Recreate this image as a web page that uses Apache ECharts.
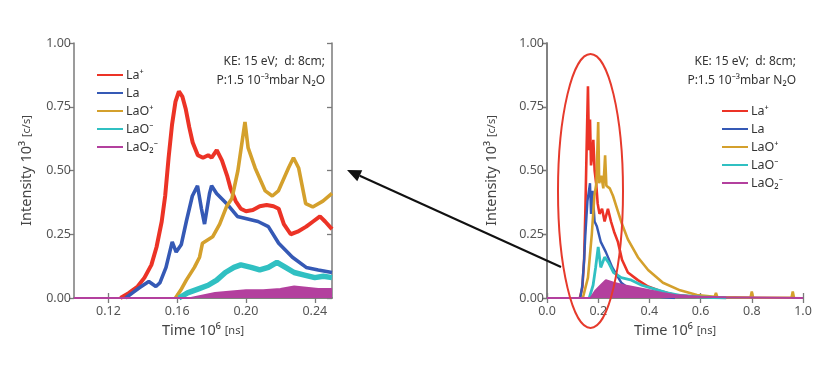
<!DOCTYPE html>
<html>
<head>
<meta charset="utf-8">
<script src="https://cdn.jsdelivr.net/npm/echarts@6/dist/echarts.min.js"></script>
<style>
html,body{margin:0;padding:0;background:#fff;}
#c{width:839px;height:378px;}
</style>
</head>
<body>
<div id="c"></div>
<script>
// ---------- Data ----------
const seriesNames = ['La\u207A', 'La', 'LaO\u207A', 'LaO\u207B', 'LaO\u2082\u207B'];
const seriesColors = ['#ec3326', '#3559b5', '#d4a02c', '#30c0c2', '#b3409e'];

// Left panel: zoom 0.10 - 0.25 (Time 10^6 ns), intensity 10^3 c/s
const zoomXTicks = [0.12, 0.16, 0.20, 0.24];
const zoomLaPlus = [[0.127,0],[0.132,0.02],[0.137,0.045],[0.141,0.08],[0.145,0.13],[0.148,0.20],[0.151,0.30],[0.153,0.40],[0.155,0.55],[0.157,0.68],[0.159,0.77],[0.161,0.81],[0.163,0.79],[0.165,0.74],[0.167,0.67],[0.169,0.61],[0.172,0.56],[0.175,0.55],[0.178,0.56],[0.180,0.55],[0.183,0.58],[0.186,0.54],[0.189,0.48],[0.191,0.43],[0.194,0.38],[0.197,0.35],[0.200,0.34],[0.204,0.345],[0.208,0.36],[0.212,0.365],[0.216,0.36],[0.219,0.35],[0.222,0.29],[0.226,0.25],[0.230,0.26],[0.235,0.28],[0.239,0.30],[0.243,0.32],[0.246,0.30],[0.250,0.27]];
const zoomLa = [[0.130,0],[0.134,0.02],[0.138,0.04],[0.1435,0.065],[0.1476,0.045],[0.150,0.06],[0.1535,0.12],[0.1571,0.22],[0.1594,0.18],[0.1624,0.21],[0.1653,0.30],[0.1688,0.40],[0.1718,0.44],[0.1741,0.35],[0.1759,0.29],[0.1788,0.41],[0.180,0.44],[0.1829,0.41],[0.1888,0.37],[0.195,0.32],[0.201,0.31],[0.207,0.30],[0.213,0.28],[0.219,0.215],[0.227,0.16],[0.235,0.12],[0.242,0.11],[0.250,0.10]];
const zoomLaOPlus = [[0.159,0],[0.162,0.03],[0.1653,0.07],[0.170,0.12],[0.173,0.16],[0.1747,0.215],[0.1806,0.24],[0.1847,0.29],[0.1888,0.36],[0.1918,0.39],[0.1953,0.50],[0.1994,0.69],[0.2012,0.59],[0.2053,0.51],[0.2112,0.42],[0.2153,0.40],[0.2188,0.42],[0.2247,0.51],[0.2276,0.55],[0.2306,0.51],[0.2347,0.37],[0.2388,0.357],[0.2447,0.38],[0.250,0.41]];
const zoomLaOMinus = [[0.161,0],[0.166,0.02],[0.172,0.035],[0.178,0.05],[0.183,0.07],[0.188,0.10],[0.193,0.12],[0.197,0.13],[0.203,0.12],[0.208,0.11],[0.213,0.12],[0.218,0.14],[0.223,0.12],[0.228,0.10],[0.234,0.09],[0.240,0.08],[0.245,0.085],[0.250,0.08]];
const zoomLaO2Minus = [[0.100,0],[0.168,0],[0.175,0.01],[0.182,0.02],[0.190,0.025],[0.200,0.03],[0.210,0.03],[0.220,0.035],[0.228,0.045],[0.235,0.04],[0.242,0.035],[0.250,0.035]];

// Right panel: full range 0.0 - 1.0
const fullLaPlus = [[0.128,0],[0.138,0.04],[0.145,0.15],[0.150,0.35],[0.155,0.60],[0.160,0.83],[0.164,0.58],[0.168,0.70],[0.172,0.52],[0.177,0.56],[0.181,0.62],[0.186,0.50],[0.192,0.45],[0.198,0.37],[0.205,0.33],[0.215,0.35],[0.225,0.30],[0.238,0.35],[0.250,0.30],[0.262,0.26],[0.277,0.22],[0.293,0.15],[0.316,0.10],[0.355,0.07],[0.395,0.045],[0.45,0.025],[0.5,0.012],[0.6,0.004],[0.7,0]];
const fullLa = [[0.13,0],[0.138,0.05],[0.145,0.15],[0.150,0.25],[0.158,0.38],[0.168,0.45],[0.172,0.33],[0.178,0.42],[0.186,0.30],[0.195,0.28],[0.210,0.22],[0.230,0.18],[0.255,0.12],[0.290,0.06],[0.330,0.03],[0.380,0.012],[0.450,0.004],[0.5,0]];
const fullLaOPlus = [[0.14,0],[0.16,0.08],[0.175,0.25],[0.185,0.40],[0.193,0.45],[0.200,0.69],[0.204,0.45],[0.212,0.48],[0.220,0.43],[0.227,0.56],[0.232,0.44],[0.245,0.43],[0.258,0.40],[0.277,0.34],[0.293,0.29],[0.316,0.23],[0.355,0.16],[0.395,0.11],[0.453,0.06],[0.52,0.03],[0.586,0.012],[0.655,0.005],[0.66,0.02],[0.665,0.004],[0.795,0.002],[0.80,0.025],[0.805,0.002],[0.955,0.001],[0.96,0.025],[0.965,0]];
const fullLaOMinus = [[0.165,0],[0.18,0.05],[0.19,0.12],[0.20,0.20],[0.21,0.12],[0.225,0.16],[0.24,0.14],[0.26,0.10],[0.29,0.08],[0.33,0.07],[0.37,0.05],[0.42,0.035],[0.47,0.02],[0.52,0.01],[0.60,0.004],[0.70,0]];
const fullLaO2Minus = [[0,0],[0.17,0],[0.19,0.03],[0.21,0.05],[0.23,0.07],[0.26,0.06],[0.30,0.05],[0.35,0.04],[0.40,0.03],[0.45,0.02],[0.50,0.012],[0.55,0.008],[0.60,0.005],[0.70,0.003],[0.80,0.002],[1.0,0]];

// ---------- Chart ----------
const FONT = '"Noto Sans", "DejaVu Sans", sans-serif';
const chart = echarts.init(document.getElementById('c'), null, {renderer: 'canvas'});
const axisCol = '#7a7a7a';
const labelCol = '#555';

function xAxes(gridIndex, min, max, interval, customTicks, decimals, gap) {
  const lbl = {color: labelCol, fontSize: 12.5, fontFamily: FONT, margin: 7,
    formatter: v => v.toFixed(decimals)};
  const tick = {inside: true, length: 5, lineStyle: {color: axisCol, width: 1.3}};
  if (customTicks) { lbl.customValues = customTicks; tick.customValues = customTicks; }
  return [
    {type: 'value', gridIndex, position: 'bottom', min, max, interval,
      axisLine: {lineStyle: {color: axisCol, width: 1.5}},
      axisTick: tick, axisLabel: lbl, splitLine: {show: false},
      name: 'Time 10\u2076 {s|[ns]}', nameLocation: 'middle', nameGap: gap,
      nameTextStyle: {color: '#444', fontSize: 14.5, fontFamily: FONT,
        rich: {s: {fontSize: 11, color: '#444', fontFamily: FONT}}}},
    {type: 'value', gridIndex, position: 'top', min, max, interval,
      axisLine: {lineStyle: {color: axisCol, width: 1.5}},
      axisTick: Object.assign({}, tick), axisLabel: {show: false}, splitLine: {show: false}}
  ];
}
function yAxes(gridIndex, gap) {
  return [
    {type: 'value', gridIndex, position: 'left', min: 0, max: 1, interval: 0.25,
      axisLine: {lineStyle: {color: axisCol, width: 1.5}},
      axisTick: {inside: false, length: 5, lineStyle: {color: axisCol, width: 1.3}},
      axisLabel: {color: labelCol, fontSize: 12.5, fontFamily: FONT, margin: 3, formatter: v => v.toFixed(2)},
      splitLine: {show: false},
      name: 'Intensity 10\u00B3 {s|[c/s]}', nameLocation: 'middle', nameGap: gap, nameRotate: 90,
      nameTextStyle: {color: '#444', fontSize: 14.5, fontFamily: FONT,
        rich: {s: {fontSize: 11, color: '#444', fontFamily: FONT}}}},
    {type: 'value', gridIndex, position: 'right', min: 0, max: 1, interval: 0.25,
      axisLine: {lineStyle: {color: axisCol, width: 1.5}},
      axisTick: {inside: true, length: 5, lineStyle: {color: axisCol, width: 1.3}},
      axisLabel: {show: false}, splitLine: {show: false}}
  ];
}

const zoomData = [zoomLaPlus, zoomLa, zoomLaOPlus, zoomLaOMinus, zoomLaO2Minus];
const fullData = [fullLaPlus, fullLa, fullLaOPlus, fullLaOMinus, fullLaO2Minus];
const zoomWidths = [4, 3.6, 3.6, 5.5, 2];
const fullWidths = [2.6, 2.4, 2.6, 2.8, 2];

const series = [];
zoomData.forEach((d, i) => {
  series.push({
    type: 'line', name: seriesNames[i], xAxisIndex: 0, yAxisIndex: 0, data: d,
    showSymbol: false, symbol: 'none', clip: true,
    lineStyle: {color: seriesColors[i], width: zoomWidths[i]},
    itemStyle: {color: seriesColors[i]},
    areaStyle: i === 4 ? {color: seriesColors[i], opacity: 1} : undefined,
    z: 2 + i
  });
});
fullData.forEach((d, i) => {
  series.push({
    type: 'line', name: seriesNames[i], xAxisIndex: 2, yAxisIndex: 2, data: d,
    showSymbol: false, symbol: 'none', clip: true,
    lineStyle: {color: seriesColors[i], width: fullWidths[i]},
    itemStyle: {color: seriesColors[i]},
    areaStyle: i === 4 ? {color: seriesColors[i], opacity: 1} : undefined,
    z: 2 + i
  });
});

const legendCommon = {
  orient: 'vertical', icon: 'rect', itemWidth: 26, itemHeight: 2, itemGap: 4,
  selectedMode: false, data: seriesNames,
  textStyle: {color: '#333', fontSize: 12.5, fontFamily: FONT, lineHeight: 14, padding: [0, 0, 0, -2]}
};

const annoFont = '12px ' + FONT;
function annoText(xRight) {
  return [
    {type: 'text', x: xRight, y: 62, z: 50, style: {text: 'KE: 15 eV;  d: 8cm;', font: annoFont, fill: '#333', align: 'right', verticalAlign: 'middle'}},
    {type: 'text', x: xRight, y: 81, z: 50, style: {text: 'P:1.5 10\u207B\u00B3mbar N\u2082O', font: annoFont, fill: '#333', align: 'right', verticalAlign: 'middle'}}
  ];
}

// arrow geometry (annotation)
const tip = [347, 170], tail = [561, 267];
const dx = tip[0] - tail[0], dy = tip[1] - tail[1];
const L = Math.hypot(dx, dy), ux = dx / L, uy = dy / L;
const headLen = 14, headHalf = 6;
const bx = tip[0] - ux * headLen, by = tip[1] - uy * headLen;

chart.setOption({
  animation: false,
  backgroundColor: '#fff',
  textStyle: {fontFamily: FONT},
  grid: [
    {left: 74, top: 43, width: 258, height: 255},
    {left: 547, top: 43, width: 256, height: 255}
  ],
  xAxis: [].concat(xAxes(0, 0.10, 0.25, null, zoomXTicks, 2, 25), xAxes(1, 0, 1.0, 0.2, null, 1, 25)),
  yAxis: [].concat(yAxes(0, 40), yAxes(1, 48)),
  legend: [
    Object.assign({left: 92, top: 63}, legendCommon),
    Object.assign({left: 717, top: 99}, legendCommon)
  ],
  series: series,
  graphic: [].concat(annoText(325), annoText(796), [
    {type: 'ellipse', z: 60, shape: {cx: 590.5, cy: 191, rx: 32.5, ry: 137},
      style: {fill: 'none', stroke: '#e63a2c', lineWidth: 2}},
    {type: 'line', z: 60, shape: {x1: tail[0], y1: tail[1], x2: bx, y2: by},
      style: {stroke: '#111', lineWidth: 2}},
    {type: 'polygon', z: 60, shape: {points: [tip, [bx - uy * headHalf, by + ux * headHalf], [bx + uy * headHalf, by - ux * headHalf]]},
      style: {fill: '#111'}}
  ])
});
</script>
</body>
</html>
